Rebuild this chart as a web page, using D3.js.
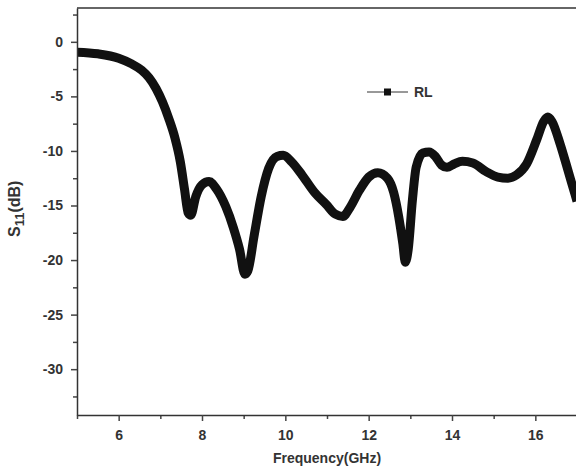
<!DOCTYPE html>
<meta charset="utf-8">
<style>
  body { margin: 0; background: #fff; }
  text { font-family: "Liberation Sans", Arial, sans-serif; font-weight: bold; fill: #333; }
</style>
<script src="https://d3js.org/d3.v7.min.js"></script>
<div id="my_dataviz"></div>
<script>
  // data
  var freq = [5.0, 5.5, 6.0, 6.3, 6.55, 6.73, 6.9, 7.05, 7.2, 7.35, 7.48, 7.58, 7.67, 7.73, 7.85, 8.0, 8.17, 8.35,
    8.57, 8.75, 8.9, 9.03, 9.1, 9.25, 9.42, 9.6, 9.8, 9.95, 10.15, 10.4, 10.7, 10.98, 11.2, 11.38, 11.55, 11.78,
    12.0, 12.22, 12.45, 12.6, 12.72, 12.82, 12.88, 12.95, 13.05, 13.14, 13.3, 13.45, 13.6, 13.75, 13.88, 14.05,
    14.25, 14.5, 14.82, 15.1, 15.34, 15.55, 15.79, 16.03, 16.2, 16.3, 16.4, 16.59, 16.8, 16.9, 17.0];
  var s11 = [-0.95, -1.1, -1.5, -2.0, -2.6, -3.3, -4.3, -5.5, -7.0, -8.8, -11.0, -13.5, -15.7, -15.9, -14.2, -13.1, -12.8, -13.5,
    -15.1, -17.0, -19.0, -21.3, -21.0, -17.8, -14.2, -11.6, -10.5, -10.4, -11.0, -12.2, -13.8, -14.9, -15.8, -16.0, -15.2, -13.6,
    -12.4, -12.0, -12.5, -13.8, -16.0, -18.5, -20.2, -19.0, -14.5, -11.5, -10.2, -10.1, -10.5, -11.3, -11.5, -11.2,
    -10.95, -11.1, -11.9, -12.4, -12.5, -12.2, -11.2, -9.0, -7.3, -6.9, -7.3, -9.3, -12.0, -13.3, -14.6];
  var xTicks = [6, 8, 10, 12, 14, 16];
  var yTicks = [0, -5, -10, -15, -20, -25, -30];
  var seriesName = "RL";

  var W = 576, H = 474;
  var margin = {top: 8, right: -1, bottom: 59, left: 77};
  var width = W - margin.left - margin.right,
      height = H - margin.top - margin.bottom;

  var svg = d3.select("#my_dataviz").append("svg")
      .attr("width", W).attr("height", H)
    .append("g")
      .attr("transform", "translate(" + margin.left + "," + margin.top + ")");

  var x = d3.scaleLinear().domain([5, 17]).range([0, width]);
  var y = d3.scaleLinear().domain([-34.2, 3.1]).range([height, 0]);

  // clip so the thick line stays inside the frame
  svg.append("clipPath").attr("id", "clip")
    .append("rect").attr("x", 0).attr("y", 0).attr("width", width).attr("height", height);

  var pts = freq.map(function(f, i) { return [f, s11[i]]; });
  var line = d3.line()
      .x(function(d) { return x(d[0]); })
      .y(function(d) { return y(d[1]); })
      .curve(d3.curveMonotoneX);

  svg.append("path")
    .datum(pts)
    .attr("clip-path", "url(#clip)")
    .attr("fill", "none")
    .attr("stroke", "#111")
    .attr("stroke-width", 9)
    .attr("stroke-linejoin", "round")
    .attr("d", line);

  // frame top line
  svg.append("line").attr("x1", 0).attr("x2", width).attr("y1", 0).attr("y2", 0)
    .attr("stroke", "#333").attr("stroke-width", 1.5);

  // minor ticks
  var yMinor = d3.range(-32.5, 3, 5);
  var xMinor = d3.range(5, 17.1, 2);
  svg.append("g").call(d3.axisLeft(y).tickValues(yMinor).tickSize(4).tickFormat(""))
    .call(function(g) { g.select(".domain").remove(); })
    .selectAll("line").attr("stroke", "#444").attr("stroke-width", 1.5);
  svg.append("g").attr("transform", "translate(0," + height + ")")
    .call(d3.axisBottom(x).tickValues(xMinor).tickSize(4).tickFormat(""))
    .call(function(g) { g.select(".domain").remove(); })
    .selectAll("line").attr("stroke", "#444").attr("stroke-width", 1.5);

  // major axes (plain hyphen for the minus sign, as in the original)
  var fmt = function(d) { return String(d); };
  var yAxis = svg.append("g")
    .call(d3.axisLeft(y).tickValues(yTicks).tickFormat(fmt).tickSize(6).tickSizeOuter(0).tickPadding(8));
  var xAxis = svg.append("g").attr("transform", "translate(0," + height + ")")
    .call(d3.axisBottom(x).tickValues(xTicks).tickFormat(fmt).tickSize(6).tickSizeOuter(0).tickPadding(9));
  [xAxis, yAxis].forEach(function(g) {
    g.select(".domain").attr("stroke", "#333").attr("stroke-width", 1.5);
    g.selectAll(".tick line").attr("stroke", "#444").attr("stroke-width", 1.5);
    g.selectAll(".tick text").style("font-size", "14px").style("font-family", "'Liberation Sans', Arial, sans-serif")
      .style("font-weight", "bold").attr("fill", "#333");
  });

  // axis titles
  svg.append("text")
    .attr("x", width / 2).attr("y", height + 48)
    .attr("text-anchor", "middle").style("font-size", "14px")
    .text("Frequency(GHz)");

  var yl = svg.append("text")
    .attr("transform", "translate(" + (-57) + "," + (y(-15.3)) + ") rotate(-90)")
    .attr("text-anchor", "middle").style("font-size", "16px");
  yl.append("tspan").text("S");
  yl.append("tspan").attr("dy", 4).style("font-size", "13px").text("11");
  yl.append("tspan").attr("dy", -4).text("(dB)");

  // legend
  var lg = svg.append("g").attr("transform", "translate(" + (367 - margin.left) + "," + (92 - margin.top) + ")");
  lg.append("line").attr("x1", 0).attr("x2", 41).attr("y1", 0).attr("y2", 0)
    .attr("stroke", "#333").attr("stroke-width", 1);
  lg.append("rect").attr("x", 17).attr("y", -3.5).attr("width", 7).attr("height", 7).attr("fill", "#111");
  lg.append("text").attr("x", 47).attr("y", 5).style("font-size", "14px").text(seriesName);
</script>
